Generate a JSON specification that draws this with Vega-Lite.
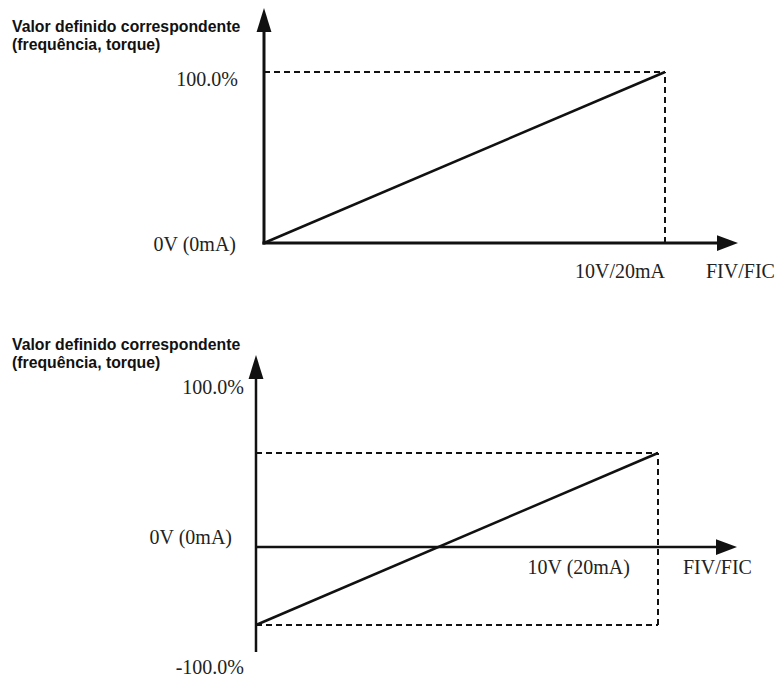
{
  "$schema": "https://vega.github.io/schema/vega-lite/v6.json",
  "padding": 0,
  "spacing": 0,
  "bounds": "flush",
  "background": "white",
  "config": {"view": {"stroke": null}},
  "vconcat": [
    {
      "width": 779,
      "height": 300,
      "encoding": {
        "x": {"field": "v", "type": "quantitative", "axis": null, "scale": {"domain": [-6.5835, 12.8429], "nice": false, "zero": false}},
        "y": {"field": "p", "type": "quantitative", "axis": null, "scale": {"domain": [-33.333, 142.105], "nice": false, "zero": false}}
      },
      "layer": [
        {
          "data": {"values": [
            {"v": 0, "v2": 0, "p": -0.9, "p2": 130.4},
            {"v": -0.04, "v2": 11.4, "p": 0, "p2": 0}
          ]},
          "mark": {"type": "rule", "color": "#111", "strokeWidth": 3},
          "encoding": {"x2": {"field": "v2"}, "y2": {"field": "p2"}}
        },
        {
          "data": {"values": [
            {"v": 0, "v2": 10, "p": 100, "p2": 100},
            {"v": 10, "v2": 10, "p": 0, "p2": 100}
          ]},
          "mark": {"type": "rule", "color": "#111", "strokeWidth": 2, "strokeDash": [6, 4]},
          "encoding": {"x2": {"field": "v2"}, "y2": {"field": "p2"}}
        },
        {
          "data": {"values": [{"v": 0, "p": 0}, {"v": 10, "p": 100}]},
          "mark": {"type": "line", "color": "#111", "strokeWidth": 2.5}
        },
        {
          "data": {"values": [{"v": 0, "p": 130.4}]},
          "mark": {"type": "point", "filled": true, "color": "#111", "opacity": 1, "strokeWidth": 0, "size": 576, "shape": "M0,-1L0.62,1L-0.62,1Z"}
        },
        {
          "data": {"values": [{"v": 11.559, "p": 0}]},
          "mark": {"type": "point", "filled": true, "color": "#111", "opacity": 1, "strokeWidth": 0, "size": 441, "shape": "M1,0L-1,0.75L-1,-0.75Z"}
        },
        {
          "data": {"values": [
            {"label": "Valor definido correspondente", "v": -6.284, "p": 126.3},
            {"label": "(frequência, torque)", "v": -6.284, "p": 115.8}
          ]},
          "mark": {"type": "text", "align": "left", "baseline": "middle", "font": "Liberation Sans", "fontWeight": "bold", "fontSize": 15.8, "color": "#111"},
          "encoding": {"text": {"field": "label"}}
        },
        {
          "data": {"values": [
            {"label": "100.0%", "v": -0.648, "p": 95.3},
            {"label": "0V (0mA)", "v": -0.698, "p": -1.17},
            {"label": "10V/20mA", "v": 10.0, "p": -16.96}
          ]},
          "mark": {"type": "text", "align": "right", "baseline": "middle", "font": "Liberation Serif", "fontSize": 20, "color": "#222"},
          "encoding": {"text": {"field": "label"}}
        },
        {
          "data": {"values": [
            {"label": "FIV/FIC", "v": 11.022, "p": -16.96}
          ]},
          "mark": {"type": "text", "align": "left", "baseline": "middle", "font": "Liberation Serif", "fontSize": 20, "color": "#222"},
          "encoding": {"text": {"field": "label"}}
        }
      ]
    },
    {
      "width": 779,
      "height": 380,
      "encoding": {
        "x": {"field": "v", "type": "quantitative", "axis": null, "scale": {"domain": [-6.368, 13.01], "nice": false, "zero": false}},
        "y": {"field": "p", "type": "quantitative", "axis": null, "scale": {"domain": [-141.49, 262.77], "nice": false, "zero": false}}
      },
      "layer": [
        {
          "data": {"values": [
            {"v": 0, "v2": 0, "p": -111.7, "p2": 191.5},
            {"v": 0, "v2": 11.5, "p": 0, "p2": 0}
          ]},
          "mark": {"type": "rule", "color": "#111", "strokeWidth": 2.5},
          "encoding": {"x2": {"field": "v2"}, "y2": {"field": "p2"}}
        },
        {
          "data": {"values": [
            {"v": 0, "v2": 10, "p": 100, "p2": 100},
            {"v": 0, "v2": 10, "p": -83, "p2": -83},
            {"v": 10, "v2": 10, "p": -83, "p2": 100}
          ]},
          "mark": {"type": "rule", "color": "#111", "strokeWidth": 2, "strokeDash": [6, 4]},
          "encoding": {"x2": {"field": "v2"}, "y2": {"field": "p2"}}
        },
        {
          "data": {"values": [{"v": 0, "p": -83}, {"v": 10, "p": 100}]},
          "mark": {"type": "line", "color": "#111", "strokeWidth": 2.5}
        },
        {
          "data": {"values": [{"v": 0, "p": 191.5}]},
          "mark": {"type": "point", "filled": true, "color": "#111", "opacity": 1, "strokeWidth": 0, "size": 576, "shape": "M0,-1L0.62,1L-0.62,1Z"}
        },
        {
          "data": {"values": [{"v": 11.704, "p": 0}]},
          "mark": {"type": "point", "filled": true, "color": "#111", "opacity": 1, "strokeWidth": 0, "size": 441, "shape": "M1,0L-1,0.75L-1,-0.75Z"}
        },
        {
          "data": {"values": [
            {"label": "Valor definido correspondente", "v": -6.07, "p": 214.9},
            {"label": "(frequência, torque)", "v": -6.07, "p": 195.7}
          ]},
          "mark": {"type": "text", "align": "left", "baseline": "middle", "font": "Liberation Sans", "fontWeight": "bold", "fontSize": 15.8, "color": "#111"},
          "encoding": {"text": {"field": "label"}}
        },
        {
          "data": {"values": [
            {"label": "100.0%", "v": -0.2985, "p": 169.1},
            {"label": "0V (0mA)", "v": -0.597, "p": 9.57},
            {"label": "-100.0%", "v": -0.2985, "p": -128.7},
            {"label": "10V (20mA)", "v": 9.303, "p": -22.3}
          ]},
          "mark": {"type": "text", "align": "right", "baseline": "middle", "font": "Liberation Serif", "fontSize": 20, "color": "#222"},
          "encoding": {"text": {"field": "label"}}
        },
        {
          "data": {"values": [
            {"label": "FIV/FIC", "v": 10.622, "p": -22.3}
          ]},
          "mark": {"type": "text", "align": "left", "baseline": "middle", "font": "Liberation Serif", "fontSize": 20, "color": "#222"},
          "encoding": {"text": {"field": "label"}}
        }
      ]
    }
  ]
}
